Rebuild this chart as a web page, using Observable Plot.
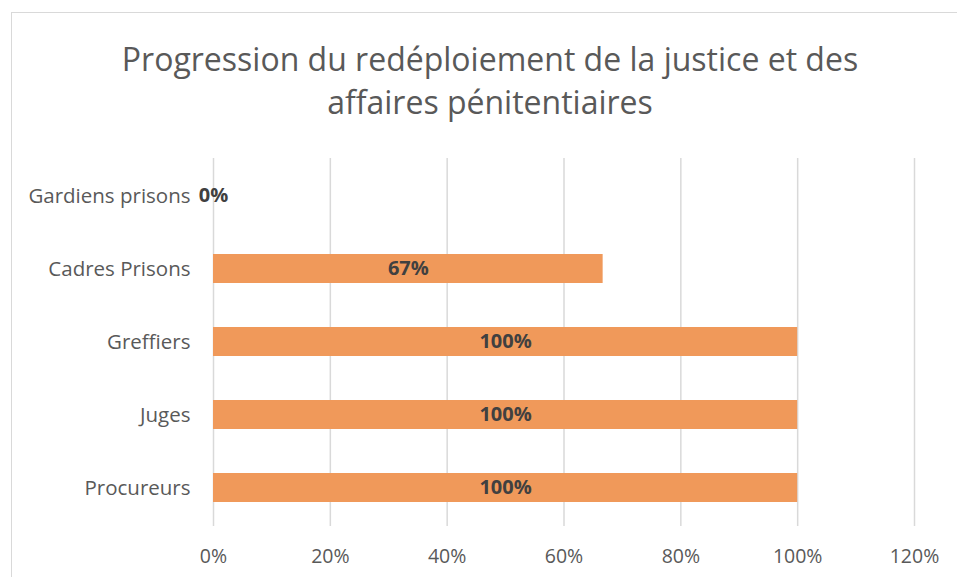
<!DOCTYPE html>
<html>
<head>
<meta charset="utf-8">
<script src="https://cdn.jsdelivr.net/npm/d3@7"></script>
<script src="https://cdn.jsdelivr.net/npm/@observablehq/plot@0.6"></script>
<style>
  html, body { margin: 0; padding: 0; background: #fff; }
  #wrap { position: relative; width: 957px; height: 577px; overflow: hidden; font-family: "Open Sans", sans-serif; }
  #frame { position: absolute; left: 11px; top: 12px; width: 1000px; height: 700px; border: 1.5px solid #d9d9d9; box-sizing: border-box; }
  #title { position: absolute; left: 0; top: 37px; width: 980px; text-align: center; font-size: 32px; line-height: 43px; color: #595959; }
  #chart { position: absolute; left: 0; top: 130px; }
</style>
</head>
<body>
<div id="wrap">
  <div id="frame"></div>
  <div id="title">Progression du redéploiement de la justice et des<br>affaires pénitentiaires</div>
  <div id="chart"></div>
</div>
<script>
const categories = ["Gardiens prisons", "Cadres Prisons", "Greffiers", "Juges", "Procureurs"];
const values = [0, 0.667, 1, 1, 1];
const labels = ["0%", "67%", "100%", "100%", "100%"];
const xTicks = [0, 0.2, 0.4, 0.6, 0.8, 1.0, 1.2];

const data = categories.map((c, i) => ({cat: c, value: values[i], label: labels[i]}));

const chart = Plot.plot({
  width: 957,
  height: 447,
  marginTop: 28,
  marginBottom: 51,
  marginLeft: 213,
  marginRight: 43,
  style: {fontFamily: "'Open Sans', sans-serif", fontSize: "20px", color: "#595959", background: "transparent"},
  x: {domain: [0, 1.2], ticks: xTicks, tickFormat: d => Math.round(d * 100) + "%", tickSize: 0, tickPadding: 23, label: null},
  y: {domain: categories, paddingInner: 0.6, paddingOuter: 0.3, tickSize: 0, tickPadding: 23, label: null},
  marks: [
    Plot.gridX(xTicks, {stroke: "#d9d9d9", strokeOpacity: 1, strokeWidth: 1.5}),
    Plot.barX(data, {x: "value", y: "cat", fill: "#F0995A"}),
    Plot.text(data, {x: d => d.value / 2, y: "cat", text: "label", fill: "#404040", fontWeight: "bold", fontSize: 20}),
    Plot.axisX({ticks: xTicks, tickFormat: d => Math.round(d * 100) + "%", tickSize: 0, tickPadding: 23, fill: "#595959", fontSize: 19.5, label: null}),
    Plot.axisY({tickSize: 0, tickPadding: 23, fill: "#595959", fontSize: 20.5, label: null})
  ]
});
document.getElementById("chart").appendChild(chart);
</script>
</body>
</html>
